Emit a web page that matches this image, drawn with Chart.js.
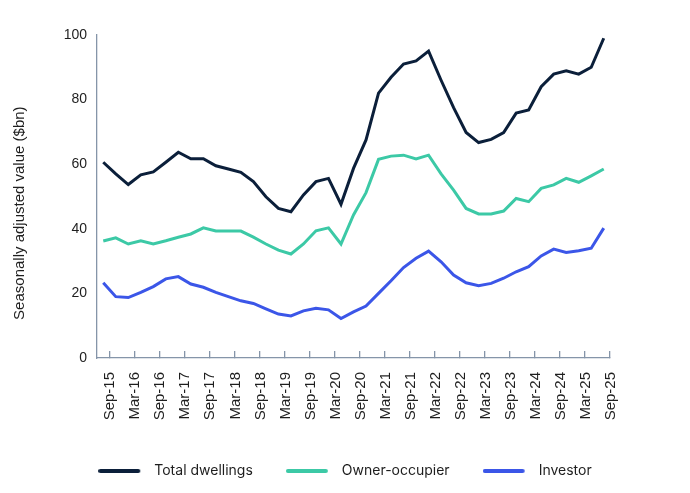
<!DOCTYPE html>
<html>
<head>
<meta charset="utf-8">
<script src="https://cdn.jsdelivr.net/npm/chart.js@4.4.1/dist/chart.umd.min.js"></script>
<style>
html,body{margin:0;padding:0;background:#ffffff;}
#wrap{width:690px;height:493px;position:relative;}
</style>
</head>
<body>
<div id="wrap"><canvas id="c"></canvas></div>
<script>
// ---- Data (quarterly, seasonally adjusted value, $bn) ----
const quarters = [
  'Sep-15','Dec-15','Mar-16','Jun-16','Sep-16','Dec-16','Mar-17','Jun-17','Sep-17','Dec-17',
  'Mar-18','Jun-18','Sep-18','Dec-18','Mar-19','Jun-19','Sep-19','Dec-19','Mar-20','Jun-20',
  'Sep-20','Dec-20','Mar-21','Jun-21','Sep-21','Dec-21','Mar-22','Jun-22','Sep-22','Dec-22',
  'Mar-23','Jun-23','Sep-23','Dec-23','Mar-24','Jun-24','Sep-24','Dec-24','Mar-25','Jun-25',
  'Sep-25'
];
const totalDwellings = [
  60.6, 57.0, 53.7, 56.7, 57.6, 60.6, 63.7, 61.7, 61.7, 59.5,
  58.5, 57.5, 54.6, 49.9, 46.3, 45.3, 50.5, 54.6, 55.6, 47.6,
  58.7, 67.5, 82.0, 86.9, 91.0, 92.0, 95.0, 86.0, 77.5, 69.8,
  66.7, 67.7, 69.8, 75.8, 76.8, 84.0, 87.9, 88.9, 87.9, 90.0,
  99.0
];
const ownerOccupier = [
  36.2, 37.2, 35.3, 36.3, 35.3, 36.3, 37.4, 38.4, 40.3, 39.3,
  39.3, 39.3, 37.4, 35.3, 33.4, 32.2, 35.3, 39.4, 40.3, 35.3,
  44.3, 51.2, 61.5, 62.5, 62.8, 61.6, 62.8, 57.0, 52.0, 46.3,
  44.6, 44.6, 45.5, 49.4, 48.4, 52.5, 53.6, 55.6, 54.4, 56.4,
  58.5
];
const investor = [
  23.3, 19.0, 18.7, 20.3, 22.1, 24.5, 25.2, 22.9, 21.9, 20.3,
  19.0, 17.7, 16.9, 15.2, 13.6, 13.0, 14.6, 15.4, 14.9, 12.2,
  14.3, 16.1, 20.0, 23.9, 28.0, 30.9, 33.1, 29.8, 25.7, 23.3,
  22.4, 23.1, 24.7, 26.7, 28.3, 31.6, 33.7, 32.7, 33.2, 34.0,
  40.2
];
const seriesNames = ['Total dwellings', 'Owner-occupier', 'Investor'];
const seriesColors = ['#0b1f3a', '#3cc9a6', '#3b56e8'];
const yMin = 0, yMax = 100, yStep = 20;
const yTitle = 'Seasonally adjusted value ($bn)';

// ---- Styling ----
const axisColor = '#8595a9';
const textColor = '#1e1e1e';

function legendSwatch(color) {
  const cv = document.createElement('canvas');
  cv.width = 49; cv.height = 6;
  const g = cv.getContext('2d');
  g.strokeStyle = color;
  g.lineWidth = 4;
  g.lineCap = 'round';
  g.beginPath();
  g.moveTo(2, 3);
  g.lineTo(40, 3);
  g.stroke();
  return cv;
}

const seriesData = [totalDwellings, ownerOccupier, investor];
const datasets = seriesNames.map((name, k) => ({
  label: name,
  data: seriesData[k],
  borderColor: seriesColors[k],
  backgroundColor: seriesColors[k],
  borderWidth: 3,
  pointRadius: 0,
  pointHoverRadius: 0,
  pointStyle: legendSwatch(seriesColors[k]),
  tension: 0,
  fill: false
}));

const oddTick = (ctx) => (ctx.index === undefined || ctx.index % 2 === 1) ? axisColor : 'rgba(0,0,0,0)';

new Chart(document.getElementById('c'), {
  type: 'line',
  data: { labels: quarters, datasets: datasets },
  options: {
    responsive: true,
    maintainAspectRatio: false,
    animation: false,
    layout: { padding: { left: 6, right: 6, top: 35, bottom: 5 } },
    plugins: {
      legend: {
        position: 'bottom',
        align: 'center',
        labels: {
          usePointStyle: true,
          pointStyleWidth: 49,
          padding: 33,
          color: textColor,
          font: { family: 'Inter', size: 14 }
        }
      },
      tooltip: { enabled: false }
    },
    scales: {
      x: {
        type: 'category',
        offset: true,
        grid: {
          offset: true,
          drawOnChartArea: false,
          drawTicks: true,
          tickLength: -7,
          lineWidth: 1.3,
          color: oddTick,
          tickColor: oddTick
        },
        border: { display: true, color: axisColor, width: 1.3 },
        ticks: {
          autoSkip: false,
          minRotation: 90,
          maxRotation: 90,
          padding: 21,
          labelOffset: 7,
          color: textColor,
          font: { family: 'Liberation Sans', size: 15 },
          callback: (v, i) => (i % 2 === 0 ? quarters[i] : '')
        },
        afterFit: (s) => { s.height = 73; }
      },
      y: {
        type: 'linear',
        position: 'left',
        min: yMin,
        max: yMax,
        grid: { display: false, drawTicks: false },
        border: { display: true, color: axisColor, width: 1.3 },
        ticks: {
          stepSize: yStep,
          padding: 10,
          color: textColor,
          font: { family: 'Liberation Sans', size: 14 }
        },
        title: {
          display: true,
          text: yTitle + '        ',
          color: textColor,
          font: { family: 'Liberation Sans', size: 15 },
          padding: { top: 5, bottom: 0 }
        },
        afterFit: (s) => { s.width = 91; }
      },
      yR: {
        type: 'linear',
        position: 'right',
        display: true,
        grid: { display: false, drawTicks: false },
        border: { display: false },
        ticks: { display: false },
        afterFit: (s) => { s.width = 74; }
      }
    }
  }
});
</script>
</body>
</html>
